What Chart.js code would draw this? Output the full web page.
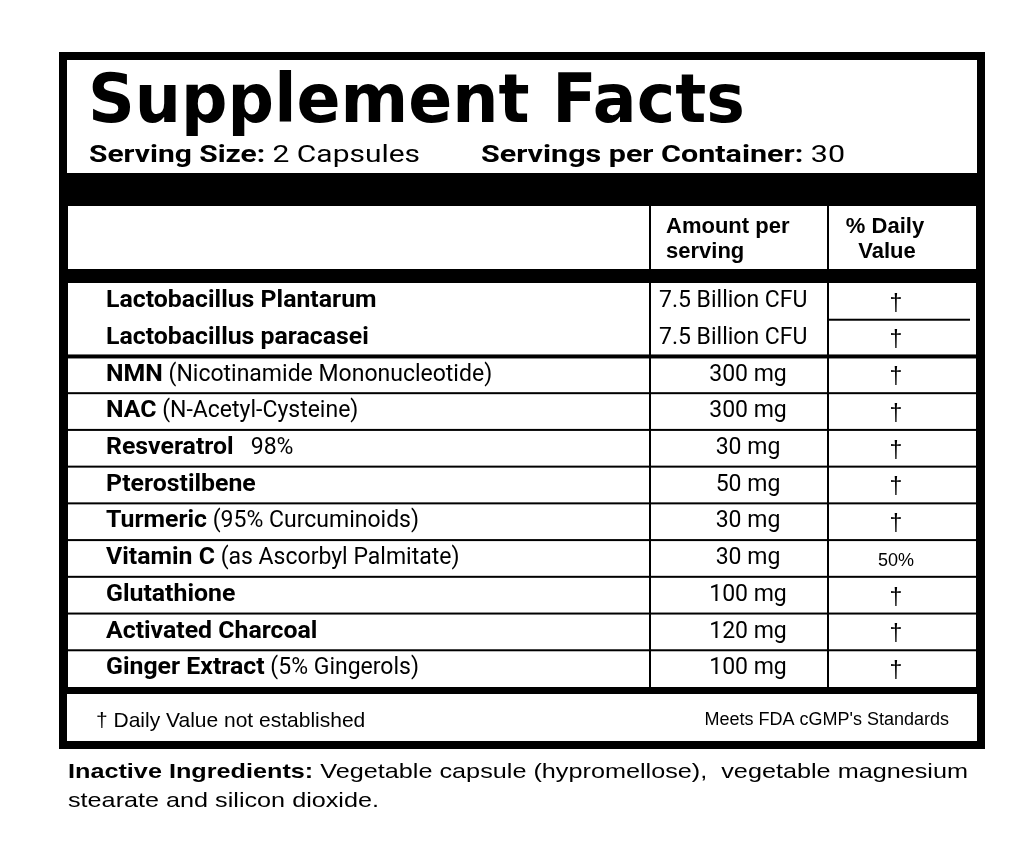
<!DOCTYPE html>
<html><head><meta charset="utf-8">
<script src="https://cdn.jsdelivr.net/npm/chart.js@4"></script>
<style>html,body{margin:0;padding:0;background:#fff}canvas{display:block}</style>
</head><body>
<canvas id="c" width="1029" height="862"></canvas>
<script>
const boldNames = ["Lactobacillus Plantarum","Lactobacillus paracasei","NMN","NAC","Resveratrol","Pterostilbene","Turmeric","Vitamin C","Glutathione","Activated Charcoal","Ginger Extract"];
const extraNames = ["","", " (Nicotinamide Mononucleotide)"," (N-Acetyl-Cysteine)","   98%",""," (95% Curcuminoids)"," (as Ascorbyl Palmitate)",""," "," (5% Gingerols)"];
const amounts = ["7.5 Billion CFU","7.5 Billion CFU","300 mg","300 mg","30 mg","50 mg","30 mg","30 mg","100 mg","120 mg","100 mg"];
const dailyValues = ["†","†","†","†","†","†","†","50%","†","†","†"];
const amountNumbers = [7.5,7.5,300,300,30,50,30,30,100,120,100];

const NARROW = '"Liberation Sans Narrow","Roboto",sans-serif';
const SANS = '"Liberation Sans",Arial,sans-serif';

const tablePlugin = {
  id:'table',
  afterDraw(chart){
    const ctx = chart.ctx, y = chart.scales.y;
    const L=67, R=977, V1=650, V2=828;
    ctx.save();
    ctx.fillStyle='#000'; ctx.strokeStyle='#000';
    ctx.lineWidth=8; ctx.strokeRect(63,56,918,689);
    ctx.textBaseline='alphabetic'; ctx.textAlign='left';
    // fitted text: draw with horizontal scale so that it spans width w
    const fit=(parts,x,yy,w)=>{
      let tot=0; for(const [t,f] of parts){ctx.font=f;tot+=ctx.measureText(t).width;}
      const s=w?w/tot:1;
      ctx.save(); ctx.translate(x,yy); ctx.scale(s,1);
      let cx=0; for(const [t,f] of parts){ctx.font=f;ctx.fillText(t,cx,0);cx+=ctx.measureText(t).width;}
      ctx.restore(); return tot*s;
    };
    ctx.save(); ctx.translate(0,122); ctx.scale(1,1.08);
    fit([['Supplement Facts','900 62px "DejaVu Sans",'+SANS]],88,0,657);
    ctx.restore();
    fit([['Serving Size:','bold 24px '+NARROW],[' 2 Capsules','24px '+NARROW]],89,162,331);
    fit([['Servings per Container:','bold 24px '+NARROW],[' 30','24px '+NARROW]],481,162,364);
    ctx.fillRect(L-4,173,R-L+8,33);
    ctx.lineWidth=2; ctx.strokeRect(L,205,R-L,485);
    ctx.fillRect(L,269,R-L,14);
    ctx.fillRect(L,687,R-L,7);
    ctx.fillRect(V1-1,205,2,485); ctx.fillRect(V2-1,205,2,485);
    ctx.font='bold 22px '+SANS;
    ctx.fillText('Amount per',666,233); ctx.fillText('serving',666,258);
    ctx.textAlign='center';
    ctx.fillText('% Daily',885,233); ctx.fillText('Value',887,258);
    const h = y.getPixelForValue(1)-y.getPixelForValue(0);
    boldNames.forEach((n,i)=>{
      const cy=y.getPixelForValue(i);
      ctx.textAlign='left'; ctx.textBaseline='middle';
      ctx.font='bold 23px '+NARROW;
      const bw=fit([[n,'bold 23px '+NARROW]],106,cy,ctx.measureText(n).width*1.08);
      fit([[extraNames[i],'23px '+NARROW]],106+bw,cy);
      ctx.font='23px '+NARROW;
      if(i<2){ctx.textAlign='left';ctx.fillText(amounts[i],659,cy);}
      else{ctx.textAlign='center';ctx.fillText(amounts[i],748,cy);}
      ctx.textAlign='center';
      ctx.font=(dailyValues[i]==='†'?'23px ':'18px ')+SANS;
      ctx.fillText(dailyValues[i],896,cy+3);
      if(i<boldNames.length-1){
        const ly=cy+h/2;
        if(i===0){ctx.fillRect(V2,ly-1,970-V2,2);}
        else ctx.fillRect(L,ly-(i===1?2:1),R-L,i===1?4:2);
      }
    });
    ctx.textBaseline='alphabetic'; ctx.textAlign='left';
    ctx.font='21px '+SANS; ctx.fillText('† Daily Value not established',96,727);
    ctx.font='18px '+SANS; ctx.textAlign='right'; ctx.fillText("Meets FDA cGMP's Standards",949,725);
    ctx.textAlign='left';
    fit([['Inactive Ingredients:','bold 21px '+SANS],[' Vegetable capsule (hypromellose),  vegetable magnesium','21px '+SANS]],68,778,900);
    ctx.font='21px '+SANS; ctx.save(); ctx.translate(68,807); ctx.scale(1.2,1); ctx.fillText('stearate and silicon dioxide.',0,0); ctx.restore();
    ctx.restore();
  }
};

new Chart(document.getElementById('c'),{
  type:'bar',
  data:{labels:boldNames,datasets:[{data:amountNumbers,backgroundColor:'rgba(0,0,0,0)',borderWidth:0}]},
  options:{indexAxis:'y',responsive:false,animation:false,events:[],
    layout:{padding:{top:283,bottom:862-687,left:67,right:52}},
    plugins:{legend:{display:false},tooltip:{enabled:false}},
    scales:{x:{display:false},y:{display:false}}},
  plugins:[tablePlugin]
});
</script>
</body></html>
